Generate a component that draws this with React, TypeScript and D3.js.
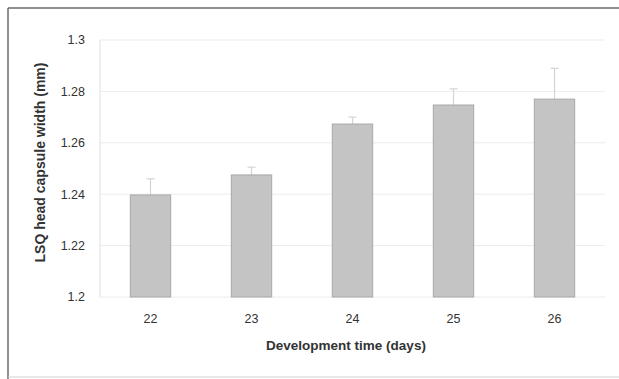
import React from "react";
import * as d3 from "d3";

const categories = ["22", "23", "24", "25", "26"];
const means = [1.2397, 1.2475, 1.2673, 1.2747, 1.277];
const errUpper = [1.246, 1.2505, 1.270, 1.281, 1.289];
const yTicks = [1.2, 1.22, 1.24, 1.26, 1.28, 1.3];
const yTickLabels = ["1.2", "1.22", "1.24", "1.26", "1.28", "1.3"];

const W = 619;
const H = 379;
const left = 100;
const right = 605;
const top = 40;
const bottom = 297;

export default function App() {
  const x = d3.scaleBand().domain(categories).range([left, right]).paddingInner(0.6).paddingOuter(0.3);
  const y = d3.scaleLinear().domain([1.2, 1.3]).range([bottom, top]);
  const font = "'Liberation Sans', Arial, sans-serif";
  return (
    <svg width={W} height={H} style={{ position: "absolute", left: 0, top: 0, background: "#fff" }}>
      <rect x={0} y={0} width={W} height={H} fill="#fff" />
      {/* frame */}
      <line x1={8} y1={8} x2={W} y2={8} stroke="#6a6a6a" strokeWidth={1.5} />
      <line x1={8} y1={8} x2={8} y2={H} stroke="#6a6a6a" strokeWidth={1.5} />
      <line x1={8} y1={377} x2={W} y2={377} stroke="#cfcfcf" strokeWidth={1} />
      {/* gridlines */}
      {yTicks.map((t) => (
        <line key={t} x1={left} x2={right} y1={y(t)} y2={y(t)} stroke="#ececec" strokeWidth={1} />
      ))}
      <line x1={left} x2={left} y1={top} y2={bottom} stroke="#e0e0e0" strokeWidth={1} />
      {/* y tick labels */}
      {yTicks.map((t, i) => (
        <text key={t} x={85} y={y(t)} dy="0.35em" textAnchor="end" fontFamily={font} fontSize={12.5} fill="#333">
          {yTickLabels[i]}
        </text>
      ))}
      {/* bars */}
      {categories.map((c, i) => {
        const bx = x(c)!;
        const bw = x.bandwidth();
        const cx = bx + bw / 2;
        return (
          <g key={c}>
            <line x1={cx} x2={cx} y1={y(means[i])} y2={y(errUpper[i])} stroke="#d4d4d4" strokeWidth={1.2} />
            <line x1={cx - 4} x2={cx + 4} y1={y(errUpper[i])} y2={y(errUpper[i])} stroke="#d4d4d4" strokeWidth={1.2} />
            <rect x={bx} y={y(means[i])} width={bw} height={y(1.2) - y(means[i])} fill="#c4c4c4" stroke="#a8a8a8" strokeWidth={1} />
          </g>
        );
      })}
      {/* x tick labels */}
      {categories.map((c) => (
        <text key={c} x={x(c)! + x.bandwidth() / 2} y={323} textAnchor="middle" fontFamily={font} fontSize={12.5} fill="#333">
          {c}
        </text>
      ))}
      <text x={346} y={350} textAnchor="middle" fontFamily={font} fontSize={13.5} fontWeight="bold" fill="#333">
        Development time (days)
      </text>
      <text
        transform={`translate(45, ${(top + bottom) / 2 - 6}) rotate(-90)`}
        textAnchor="middle"
        fontFamily={font}
        fontSize={14}
        fontWeight="bold"
        fill="#333"
      >
        LSQ head capsule width (mm)
      </text>
    </svg>
  );
}
